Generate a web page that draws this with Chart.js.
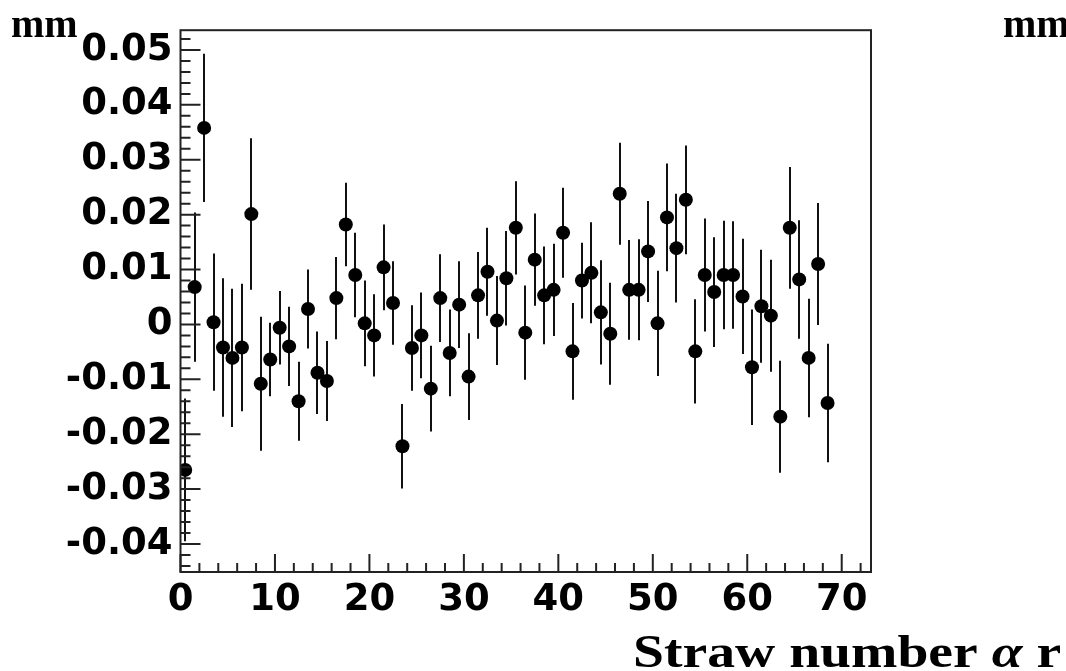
<!DOCTYPE html>
<html>
<head>
<meta charset="utf-8">
<script src="https://cdn.jsdelivr.net/npm/chart.js@4"></script>
<style>
  html, body { margin: 0; padding: 0; background: #fff; }
  #wrap { width: 1066px; height: 671px; }
</style>
</head>
<body>
<div id="wrap"><canvas id="residChart" width="1066" height="671"></canvas></div>
<script>
// straw number (bin centres)
const straws = [0.5, 1.5, 2.5, 3.5, 4.5, 5.5, 6.5, 7.5, 8.5, 9.5,
  10.5, 11.5, 12.5, 13.5, 14.5, 15.5, 16.5, 17.5, 18.5, 19.5,
  20.5, 21.5, 22.5, 23.5, 24.5, 25.5, 26.5, 27.5, 28.5, 29.5,
  30.5, 31.5, 32.5, 33.5, 34.5, 35.5, 36.5, 37.5, 38.5, 39.5,
  40.5, 41.5, 42.5, 43.5, 44.5, 45.5, 46.5, 47.5, 48.5, 49.5,
  50.5, 51.5, 52.5, 53.5, 54.5, 55.5, 56.5, 57.5, 58.5, 59.5,
  60.5, 61.5, 62.5, 63.5, 64.5, 65.5, 66.5, 67.5, 68.5];

// mean residual (mm)
const residual = [-0.0265, 0.0068, 0.0358, 0.0004, -0.0042, -0.0061, -0.0042, 0.0201, -0.0108, -0.0064,
  -0.0006, -0.0040, -0.0140, 0.0028, -0.0088, -0.0103, 0.0048, 0.0182, 0.0090, 0.0002,
  -0.0020, 0.0104, 0.0039, -0.0222, -0.0043, -0.0020, -0.0117, 0.0048, -0.0052, 0.0036,
  -0.0095, 0.0053, 0.0096, 0.0007, 0.0084, 0.0176, -0.0015, 0.0118, 0.0053, 0.0063,
  0.0167, -0.0049, 0.0080, 0.0094, 0.0022, -0.0017, 0.0238, 0.0063, 0.0063, 0.0133,
  0.0002, 0.0195, 0.0139, 0.0227, -0.0049, 0.0090, 0.0059, 0.0090, 0.0090, 0.0051,
  -0.0078, 0.0033, 0.0016, -0.0168, 0.0176, 0.0082, -0.0061, 0.0110, -0.0143];

// error (mm)
const residualErr = [0.0130, 0.0136, 0.0135, 0.0125, 0.0126, 0.0126, 0.0116, 0.0138, 0.0122, 0.0067,
  0.0067, 0.0072, 0.0072, 0.0072, 0.0075, 0.0073, 0.0075, 0.0076, 0.0077, 0.0078,
  0.0075, 0.0078, 0.0076, 0.0077, 0.0078, 0.0078, 0.0078, 0.0080, 0.0079, 0.0079,
  0.0079, 0.0079, 0.0080, 0.0081, 0.0086, 0.0085, 0.0086, 0.0084, 0.0089, 0.0084,
  0.0082, 0.0088, 0.0069, 0.0092, 0.0095, 0.0093, 0.0093, 0.0091, 0.0092, 0.0092,
  0.0096, 0.0098, 0.0099, 0.0099, 0.0095, 0.0103, 0.0100, 0.0099, 0.0098, 0.0105,
  0.0105, 0.0103, 0.0102, 0.0102, 0.0111, 0.0108, 0.0108, 0.0111, 0.0108];

const xTicks = [0, 10, 20, 30, 40, 50, 60, 70];
const xMinorTicks = [2, 4, 6, 8, 12, 14, 16, 18, 22, 24, 26, 28, 32, 34, 36, 38, 42, 44, 46, 48,
  52, 54, 56, 58, 62, 64, 66, 68, 72];
const yTicks = [-0.04, -0.03, -0.02, -0.01, 0, 0.01, 0.02, 0.03, 0.04, 0.05];
const yMinorTicks = [-0.044, -0.042, -0.038, -0.036, -0.034, -0.032, -0.028, -0.026, -0.024, -0.022,
  -0.018, -0.016, -0.014, -0.012, -0.008, -0.006, -0.004, -0.002, 0.002, 0.004, 0.006, 0.008,
  0.012, 0.014, 0.016, 0.018, 0.022, 0.024, 0.026, 0.028, 0.032, 0.034, 0.036, 0.038,
  0.042, 0.044, 0.046, 0.048, 0.052];

const points = straws.map((s, i) => ({ x: s, y: residual[i] }));

// vertical error bars, drawn under the markers
const errorBars = {
  id: 'errorBars',
  beforeDatasetsDraw(chart) {
    const { ctx, scales: { x, y } } = chart;
    ctx.save();
    ctx.strokeStyle = '#111';
    ctx.lineWidth = 2;
    straws.forEach((s, i) => {
      const px = Math.round(x.getPixelForValue(s));
      ctx.beginPath();
      ctx.moveTo(px, y.getPixelForValue(residual[i] + residualErr[i]));
      ctx.lineTo(px, y.getPixelForValue(residual[i] - residualErr[i]));
      ctx.stroke();
    });
    ctx.restore();
  }
};

// ROOT style frame with inward ticks, plus the titles
const frameAndTitles = {
  id: 'frameAndTitles',
  afterDraw(chart) {
    const { ctx, chartArea: a, scales: { x, y } } = chart;
    ctx.save();
    ctx.strokeStyle = '#222';
    ctx.lineWidth = 2;
    ctx.strokeRect(a.left, a.top, a.right - a.left, a.bottom - a.top);

    ctx.beginPath();
    xTicks.forEach(v => {
      const px = x.getPixelForValue(v);
      ctx.moveTo(px, a.bottom); ctx.lineTo(px, a.bottom - 18);
    });
    xMinorTicks.forEach(v => {
      const px = x.getPixelForValue(v);
      ctx.moveTo(px, a.bottom); ctx.lineTo(px, a.bottom - 9);
    });
    yTicks.forEach(v => {
      const py = y.getPixelForValue(v);
      ctx.moveTo(a.left, py); ctx.lineTo(a.left + 20, py);
    });
    yMinorTicks.forEach(v => {
      const py = y.getPixelForValue(v);
      ctx.moveTo(a.left, py); ctx.lineTo(a.left + 10, py);
    });
    ctx.stroke();

    ctx.fillStyle = '#000';
    ctx.textBaseline = 'alphabetic';
    ctx.font = 'bold 40px "Liberation Serif"';
    ctx.fillText('mm', 11, 37);
    ctx.fillText('mm', 1003, 37);

    // x title, stretched a little like the original
    ctx.translate(633, 667);
    ctx.scale(1.21, 1);
    ctx.font = 'bold 46px "Liberation Serif"';
    let w = 0;
    ctx.fillText('Straw number ', w, 0);
    w += ctx.measureText('Straw number ').width;
    ctx.font = 'italic bold 46px "Liberation Serif"';
    ctx.fillText('α', w, 0);
    w += ctx.measureText('α').width;
    ctx.font = 'bold 46px "Liberation Serif"';
    ctx.fillText(' r', w, 0);
    ctx.restore();
  }
};

const ctx = document.getElementById('residChart').getContext('2d');
new Chart(ctx, {
  type: 'scatter',
  data: {
    datasets: [{
      label: 'residual',
      data: points,
      backgroundColor: '#000',
      borderColor: '#000',
      pointRadius: 7,
      pointHoverRadius: 7,
      borderWidth: 0
    }]
  },
  options: {
    responsive: false,
    animation: false,
    layout: { padding: { left: 0, right: 195, top: 29, bottom: 0 } },
    plugins: {
      legend: { display: false },
      tooltip: { enabled: false }
    },
    scales: {
      x: {
        type: 'linear',
        min: 0,
        max: 73.1,
        grid: { display: false, drawTicks: false },
        border: { display: false },
        afterBuildTicks: s => { s.ticks = xTicks.map(v => ({ value: v })); },
        afterFit: s => { s.height = 99; },
        ticks: {
          color: '#000',
          padding: 6,
          maxRotation: 0,
          autoSkip: false,
          font: { family: '"DejaVu Sans"', weight: 'bold', size: 37 }
        }
      },
      y: {
        type: 'linear',
        min: -0.0451,
        max: 0.0536,
        grid: { display: false, drawTicks: false },
        border: { display: false },
        afterBuildTicks: s => { s.ticks = yTicks.map(v => ({ value: v })); },
        afterFit: s => { s.width = 180.5; },
        ticks: {
          color: '#000',
          padding: 8,
          autoSkip: false,
          font: { family: '"DejaVu Sans"', weight: 'bold', size: 37 },
          callback: v => (Math.abs(v) < 1e-9 ? '0' : String(Math.round(v * 100) / 100))
        }
      }
    }
  },
  plugins: [errorBars, frameAndTitles]
});
</script>
</body>
</html>
